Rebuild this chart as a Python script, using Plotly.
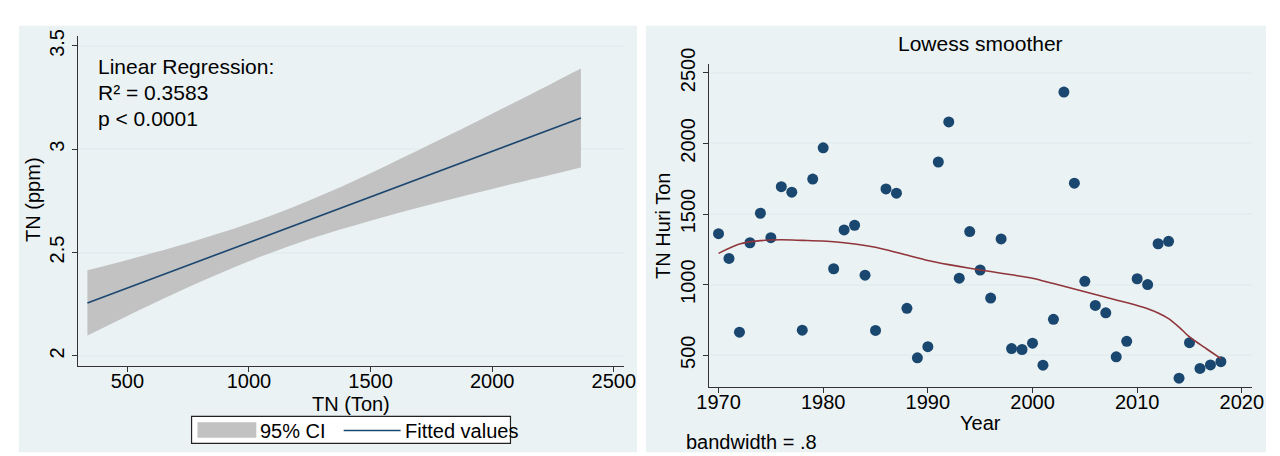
import plotly.graph_objects as go

W, H = 1280, 456

# ---------------- data: left panel (linear fit with 95% CI) ----------------
ci_x = [336, 500, 750, 1000, 1250, 1500, 1750, 2000, 2250, 2365]
ci_upper = [2.414, 2.464, 2.546, 2.640, 2.753, 2.884, 3.026, 3.172, 3.321, 3.390]
ci_lower = [2.098, 2.193, 2.332, 2.458, 2.565, 2.654, 2.734, 2.808, 2.879, 2.912]
fit_x = [336, 2365]
fit_y = [2.256, 3.151]
left_xticks = [500, 1000, 1500, 2000, 2500]
left_yticks = [2, 2.5, 3, 3.5]
left_ytick_text = ["2", "2.5", "3", "3.5"]

# ---------------- data: right panel (scatter + lowess) ----------------
years = list(range(1970, 2019))
tn_huri_ton = [1361, 1186, 664, 1297, 1506, 1333, 1694, 1655, 678, 1748,
               1969, 1113, 1388, 1421, 1067, 676, 1678, 1648, 833, 482,
               561, 1869, 2153, 1046, 1376, 1104, 905, 1324, 548, 541,
               586, 430, 755, 2364, 1719, 1024, 853, 801, 489, 599,
               1042, 1001, 1290, 1307, 338, 589, 407, 432, 455]
lowess_years = [1970, 1972, 1974, 1976, 1978, 1980, 1982, 1984, 1986, 1988,
                1990, 1992, 1994, 1996, 1998, 2000, 2002, 2004, 2006, 2008,
                2010, 2011, 2012, 2013, 2014, 2015, 2016, 2017, 2018]
lowess_vals = [1222, 1288, 1312, 1318, 1314, 1309, 1297, 1277, 1248, 1210,
               1172, 1142, 1116, 1093, 1070, 1046, 1008, 970, 930, 892,
               853, 830, 800, 760, 700, 630, 577, 527, 477]
right_xticks = [1970, 1980, 1990, 2000, 2010, 2020]
right_yticks = [500, 1000, 1500, 2000, 2500]

# ---------------- styling ----------------
FONT = "Liberation Sans, Arial, sans-serif"
BG = "#EAF2F3"
GRID = "#E4EEF0"
NAVY = "#1A476F"
MAROON = "#90353B"
CIGREY = "#C2C2C2"
AXIS = "#333333"


def px(x):
    return x / W


def py(y):
    return 1 - y / H


fig = go.Figure()

# CI band
fig.add_trace(go.Scatter(
    x=ci_x, y=ci_lower, mode="lines", line=dict(width=0, shape="spline"),
    hoverinfo="skip", showlegend=False, xaxis="x", yaxis="y"))
fig.add_trace(go.Scatter(
    x=ci_x, y=ci_upper, mode="lines", line=dict(width=0, shape="spline"),
    fill="tonexty", fillcolor=CIGREY,
    hoverinfo="skip", showlegend=False, xaxis="x", yaxis="y"))
fig.add_trace(go.Scatter(
    x=fit_x, y=fit_y, mode="lines", line=dict(color=NAVY, width=1.6),
    showlegend=False, xaxis="x", yaxis="y"))

# right: scatter + lowess
fig.add_trace(go.Scatter(
    x=years, y=tn_huri_ton, mode="markers",
    marker=dict(color=NAVY, size=11, line=dict(width=0)),
    showlegend=False, xaxis="x2", yaxis="y2"))
fig.add_trace(go.Scatter(
    x=lowess_years, y=lowess_vals, mode="lines",
    line=dict(color=MAROON, width=1.6, shape="spline", smoothing=0.8),
    showlegend=False, xaxis="x2", yaxis="y2"))

tickfont = dict(family=FONT, size=20, color="#000")
common_x = dict(showline=True, linecolor=AXIS, linewidth=1, ticks="outside",
                ticklen=5, tickcolor=AXIS, tickwidth=1, showgrid=False,
                zeroline=False, tickfont=tickfont, ticklabelstandoff=-8)
common_y = dict(showline=True, linecolor=AXIS, linewidth=1, ticks="outside",
                ticklen=5, tickcolor=AXIS, tickwidth=1, showgrid=True,
                gridcolor=GRID, gridwidth=1.5, zeroline=False,
                tickfont=tickfont, tickangle=-90)

shapes = [
    # panel backgrounds
    dict(type="rect", xref="paper", yref="paper", x0=px(7), x1=px(637),
         y0=py(452), y1=py(10), fillcolor=BG, line=dict(width=0), layer="below"),
    dict(type="rect", xref="paper", yref="paper", x0=px(646), x1=px(1278),
         y0=py(452), y1=py(10), fillcolor=BG, line=dict(width=0), layer="below"),
    # legend box
    dict(type="rect", xref="paper", yref="paper", x0=px(183), x1=px(508),
         y0=py(443), y1=py(415), fillcolor="white",
         line=dict(color="#222", width=1.2)),
    dict(type="rect", xref="paper", yref="paper", x0=px(189), x1=px(249),
         y0=py(437), y1=py(421), fillcolor=CIGREY, line=dict(width=0)),
    dict(type="line", xref="paper", yref="paper", x0=px(338), x1=px(396),
         y0=py(429.5), y1=py(429.5), line=dict(color=NAVY, width=1.6)),
]

ann = []


def add_text(text, x, y, size=20, xanchor="center", yanchor="middle", angle=0):
    ann.append(dict(text=text, x=px(x), y=py(y), xref="paper", yref="paper",
                    xanchor=xanchor, yanchor=yanchor, showarrow=False,
                    textangle=angle, font=dict(family=FONT, size=size, color="#000")))


add_text("Linear Regression:", 86, 52, size=21, xanchor="left")
add_text("R² = 0.3583", 86, 79, size=21, xanchor="left")
add_text("p < 0.0001", 86, 106, size=21, xanchor="left")
add_text("TN (Ton)", 345, 402)
add_text("TN (ppm)", 22, 191, angle=-90)
add_text("95% CI", 251, 430, xanchor="left")
add_text("Fitted values", 398, 430, xanchor="left")
add_text("Lowess smoother", 987, 28, size=21)
add_text("Year", 987, 422)
add_text("TN Huri Ton", 664, 218, angle=-90)
add_text("bandwidth = .8", 685, 441, xanchor="left")

fig.update_layout(
    width=W, height=H, margin=dict(l=0, r=0, t=0, b=0),
    paper_bgcolor="white", plot_bgcolor="white", showlegend=False,
    xaxis=dict(domain=[px(67.3), px(623.3)], range=[297.4, 2540.5],
               tickvals=left_xticks, anchor="y", **common_x),
    yaxis=dict(domain=[py(362.3), py(20.7)], range=[1.953, 3.548],
               tickvals=left_yticks, ticktext=left_ytick_text, anchor="x",
               **common_y),
    xaxis2=dict(domain=[px(710), px(1264)], range=[1969.06, 2021.0],
                tickvals=right_xticks, anchor="y2", **common_x),
    yaxis2=dict(domain=[py(385), py(49.3)], range=[272, 2566],
                tickvals=right_yticks, anchor="x2", **common_y),
    shapes=shapes, annotations=ann,
)

fig.write_html("out.html")
